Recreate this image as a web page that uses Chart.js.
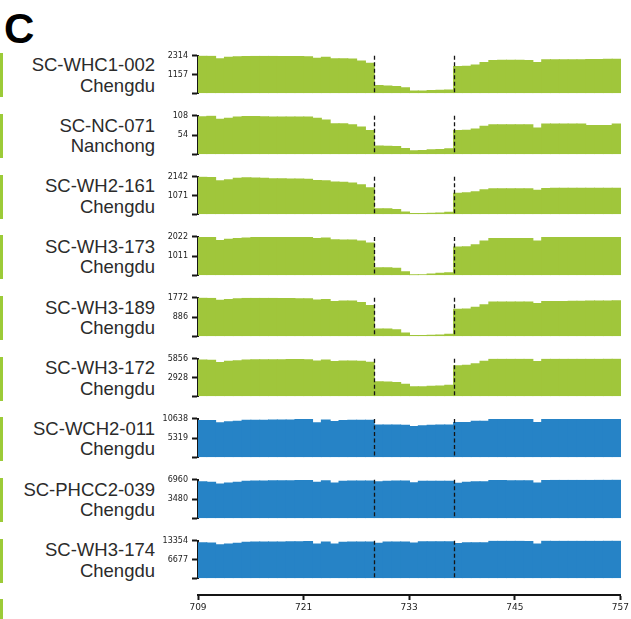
<!DOCTYPE html>
<html>
<head>
<meta charset="utf-8">
<script src="https://cdn.jsdelivr.net/npm/chart.js@4/dist/chart.umd.min.js"></script>
<style>
  html, body { margin: 0; padding: 0; background: #fff; }
  #fig { position: relative; width: 631px; height: 619px; overflow: hidden; background: #fff; }
  #fig canvas { position: absolute; }
  .strip { position: absolute; left: 0; width: 2.5px; background: #9ccb38; }
  .name { position: absolute; right: 476px; text-align: right; white-space: nowrap;
          font-family: "Liberation Sans", Arial, sans-serif; font-size: 18.5px; line-height: 20.5px; color: #2b2b2b; }
  .letter { position: absolute; left: 4px; top: 7.5px; font-family: "Liberation Sans", Arial, sans-serif;
            font-weight: bold; font-size: 42px; line-height: 42px; color: #000; }
</style>
</head>
<body>
<div id="fig"><div class="letter">C</div></div>
<script>
// Genome positions (each bar covers [pos, pos + 1])
const positions = [709, 710, 711, 712, 713, 714, 715, 716, 717, 718, 719, 720, 721, 722, 723, 724,
                   725, 726, 727, 728, 729, 730, 731, 732, 733, 734, 735, 736, 737, 738, 739, 740,
                   741, 742, 743, 744, 745, 746, 747, 748, 749, 750, 751, 752, 753, 754, 755, 756];
const xTicks = [709, 721, 733, 745, 757];
const markers = [729, 738];

const sampleIds = ['SC-WHC1-002', 'SC-NC-071', 'SC-WH2-161', 'SC-WH3-173', 'SC-WH3-189',
                   'SC-WH3-172', 'SC-WCH2-011', 'SC-PHCC2-039', 'SC-WH3-174'];
const cities = ['Chengdu', 'Nanchong', 'Chengdu', 'Chengdu', 'Chengdu',
                'Chengdu', 'Chengdu', 'Chengdu', 'Chengdu'];
const axisMax = [2314, 108, 2142, 2022, 1772, 5856, 10638, 6960, 13354];
const deletionCarrier = [true, true, true, true, true, true, false, false, false];

const depthWHC1_002 = [2314, 2300, 2124, 2219, 2257, 2270, 2280, 2285, 2282, 2276, 2272, 2266, 2258, 2162, 2219, 2124,
  2130, 2112, 1991, 1859, 477, 449, 420, 340, 136, 136, 165, 176, 199, 1649, 1660, 1745,
  1898, 2030, 2035, 2035, 2032, 2030, 1898, 2070, 2070, 2075, 2075, 2070, 2080, 2090, 2100, 2105];
const depthNC_071 = [105.3, 108, 98.1, 100.8, 104.4, 106.2, 105.8, 105.3, 104.9, 104.4, 104.4, 104.9, 104.4, 100.8, 96.3, 85.5,
  85.5, 82.8, 76.5, 66.6, 23.4, 22.5, 21.6, 16.2, 9.9, 10.4, 12.6, 13, 15.3, 66.6, 67.5, 71.1,
  78.3, 82.8, 82.8, 82.8, 82.8, 82.8, 73.8, 84.6, 84.6, 84.6, 84.6, 84.6, 81, 81, 81, 84.6];
const depthWH2_161 = [2142, 2107, 1914, 1966, 2054, 2089, 2072, 2054, 2037, 2037, 2019, 2019, 2002, 1931, 1914, 1844,
  1826, 1791, 1686, 1510, 316, 310, 263, 123, 35, 35, 53, 70, 105, 1194, 1229, 1282,
  1405, 1457, 1457, 1457, 1457, 1457, 1369, 1475, 1480, 1485, 1485, 1488, 1488, 1490, 1492, 1492];
const depthWH3_173 = [2005, 1989, 1840, 1906, 1939, 1972, 1989, 2005, 2005, 2005, 1989, 1989, 1989, 1939, 1972, 1873,
  1856, 1856, 1806, 1707, 398, 390, 365, 182, 17, 20, 66, 100, 133, 1492, 1510, 1608,
  1806, 1939, 1939, 1939, 1939, 1939, 1806, 1989, 1995, 2000, 2005, 2005, 2010, 2015, 2018, 2022];
const depthWH3_189 = [1772, 1757, 1655, 1699, 1728, 1757, 1757, 1757, 1757, 1743, 1743, 1728, 1728, 1670, 1699, 1596,
  1626, 1626, 1552, 1421, 337, 335, 293, 146, 29, 29, 44, 59, 88, 1245, 1260, 1333,
  1450, 1582, 1582, 1582, 1582, 1582, 1508, 1596, 1600, 1605, 1610, 1615, 1620, 1625, 1630, 1640];
const depthWH3_172 = [5661, 5612, 5270, 5466, 5563, 5661, 5710, 5710, 5710, 5710, 5758, 5758, 5710, 5514, 5661, 5417,
  5514, 5514, 5466, 5319, 2245, 2220, 2147, 1855, 1464, 1480, 1562, 1610, 1708, 4782, 4830, 5075,
  5466, 5807, 5807, 5807, 5807, 5807, 5417, 5807, 5815, 5820, 5825, 5830, 5835, 5840, 5850, 5856];
const depthWCH2_011 = [10202, 10202, 9592, 9853, 10028, 10290, 10290, 10290, 10377, 10377, 10377, 10464, 10464, 9592, 10377, 9940,
  10202, 10290, 10290, 10290, 8981, 8981, 8981, 8894, 8545, 8720, 8894, 8981, 8981, 9679, 9679, 10028,
  10028, 10551, 10551, 10551, 10551, 10551, 9679, 10551, 10580, 10590, 10600, 10610, 10615, 10620, 10630, 10638];
const depthPHCC2_039 = [6618, 6504, 6219, 6390, 6504, 6675, 6732, 6732, 6789, 6789, 6789, 6846, 6846, 6504, 6789, 6390,
  6675, 6732, 6732, 6732, 6618, 6675, 6732, 6732, 6447, 6675, 6675, 6675, 6675, 6333, 6504, 6618,
  6618, 6846, 6846, 6789, 6789, 6789, 6390, 6846, 6860, 6870, 6880, 6890, 6900, 6910, 6930, 6960];
const depthWH3_174 = [12692, 12581, 11919, 12250, 12471, 12802, 12913, 12913, 12913, 12913, 13023, 13023, 13133, 12250, 12913, 12250,
  12802, 12913, 12913, 12913, 12471, 12913, 12913, 12913, 12581, 13023, 13023, 13023, 13023, 12361, 12692, 12692,
  12692, 13244, 13244, 13244, 13244, 13133, 12250, 13354, 13300, 13280, 13300, 13320, 13300, 13320, 13330, 13354];

const depthSeries = [depthWHC1_002, depthNC_071, depthWH2_161, depthWH3_173, depthWH3_189,
                     depthWH3_172, depthWCH2_011, depthPHCC2_039, depthWH3_174];

const GREEN = '#a0c63b';
const BLUE = '#2683c6';
const INK = '#151515';

// Layout of the stacked panels
const FIRST_TOP = 55, PITCH = 60.66, PLOT_H = 40.6;
const CANVAS_LEFT = 150, CANVAS_W = 481, AXIS_W = 48, PAD_RIGHT = 10, PAD_BOTTOM = 6;

Chart.defaults.font.family = '"DejaVu Sans", sans-serif';
Chart.defaults.color = '#222';

const fig = document.getElementById('fig');

// Dashed vertical reference lines at the marker positions
const markerLines = {
  id: 'markerLines',
  afterDatasetsDraw(chart) {
    const { ctx, chartArea, scales } = chart;
    ctx.save();
    ctx.strokeStyle = INK;
    ctx.lineWidth = 1.3;
    ctx.setLineDash([4, 2.5]);
    markers.forEach(m => {
      const x = Math.round(scales.x.getPixelForValue(m)) + 0.5;
      ctx.beginPath();
      ctx.moveTo(x, chartArea.top);
      ctx.lineTo(x, chartArea.bottom);
      ctx.stroke();
    });
    ctx.restore();
  }
};

function addStrip(top) {
  const s = document.createElement('div');
  s.className = 'strip';
  s.style.top = (top - 1.7) + 'px';
  s.style.height = (PLOT_H + 3.4) + 'px';
  fig.appendChild(s);
}

depthSeries.forEach((values, i) => {
  const top = FIRST_TOP + i * PITCH;
  const canvasTop = Math.floor(top) - 8;
  const padTop = top - canvasTop;
  const h = Math.ceil(padTop + PLOT_H + PAD_BOTTOM);

  addStrip(top);

  const label = document.createElement('div');
  label.className = 'name';
  label.style.top = top + 'px';
  label.innerHTML = sampleIds[i] + '<br>' + cities[i];
  fig.appendChild(label);

  const cv = document.createElement('canvas');
  cv.width = CANVAS_W; cv.height = h;
  cv.style.left = CANVAS_LEFT + 'px'; cv.style.top = canvasTop + 'px';
  cv.style.width = CANVAS_W + 'px'; cv.style.height = h + 'px';
  fig.appendChild(cv);

  const max = axisMax[i];
  const color = deletionCarrier[i] ? GREEN : BLUE;
  new Chart(cv, {
    type: 'bar',
    data: {
      datasets: [{
        data: positions.map((p, k) => ({ x: p + 0.5, y: values[k] })),
        backgroundColor: color,
        borderWidth: 0,
        inflateAmount: 0.5,
        barPercentage: 1,
        categoryPercentage: 1
      }]
    },
    options: {
      responsive: false,
      animation: false,
      devicePixelRatio: 1,
      layout: { padding: { top: padTop, bottom: h - padTop - PLOT_H, left: 0, right: PAD_RIGHT } },
      plugins: { legend: { display: false }, tooltip: { enabled: false } },
      scales: {
        x: {
          type: 'linear', min: xTicks[0], max: xTicks[xTicks.length - 1],
          offset: false, display: false, grid: { offset: false }
        },
        y: {
          min: 0, max: max,
          afterBuildTicks: s => { s.ticks = [0, max / 2, max].map(v => ({ value: v })); },
          afterFit: s => { s.width = AXIS_W; },
          ticks: {
            callback: v => (v === 0 ? '' : String(v)),
            font: { size: 8 }, color: '#222', padding: 4, autoSkip: false
          },
          grid: { drawOnChartArea: false, drawTicks: true, tickLength: 6, tickWidth: 2, tickColor: INK },
          border: { display: true, color: INK, width: 2 }
        }
      }
    },
    plugins: [markerLines]
  });
});

// Partially visible strip of the following row
addStrip(FIRST_TOP + 9 * PITCH);

// Shared position axis below the panels
(function () {
  const cv = document.createElement('canvas');
  const h = 34;
  cv.width = CANVAS_W; cv.height = h;
  cv.style.left = CANVAS_LEFT + 'px'; cv.style.top = '585px';
  cv.style.width = CANVAS_W + 'px'; cv.style.height = h + 'px';
  fig.appendChild(cv);
  new Chart(cv, {
    type: 'scatter',
    data: { datasets: [{ data: [] }] },
    options: {
      responsive: false,
      animation: false,
      devicePixelRatio: 1,
      layout: { padding: { top: 0, bottom: 0, left: AXIS_W, right: PAD_RIGHT } },
      plugins: { legend: { display: false }, tooltip: { enabled: false } },
      scales: {
        x: {
          type: 'linear', position: 'bottom', min: xTicks[0], max: xTicks[xTicks.length - 1],
          afterBuildTicks: s => { s.ticks = xTicks.map(v => ({ value: v })); },
          afterFit: s => { s.height = 24; },
          ticks: { font: { size: 9 }, color: '#222', padding: 2, maxRotation: 0, autoSkip: false },
          grid: { drawOnChartArea: false, drawTicks: true, tickLength: 5, tickWidth: 2, tickColor: INK },
          border: { display: true, color: INK, width: 2 }
        },
        y: { display: false, min: 0, max: 1 }
      }
    }
  });
})();
</script>
</body>
</html>
